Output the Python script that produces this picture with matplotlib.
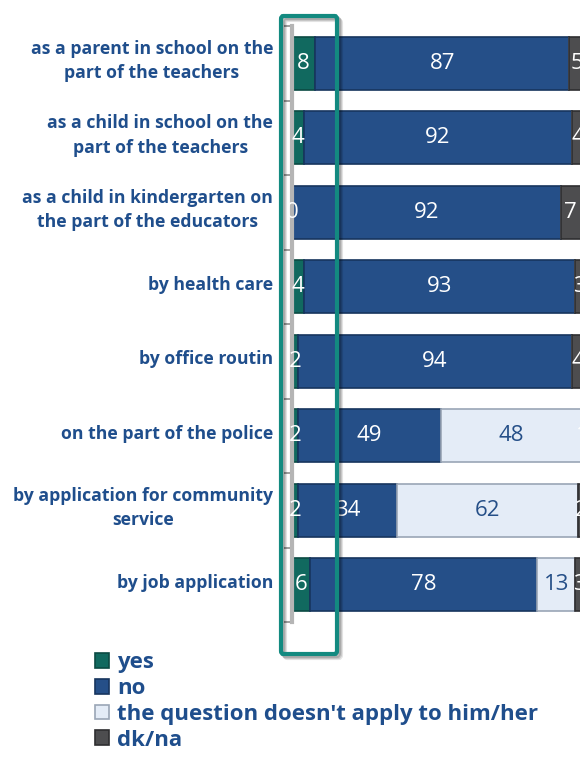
import matplotlib
matplotlib.use("Agg")
import matplotlib.pyplot as plt
from matplotlib.patches import FancyBboxPatch
import numpy as np

plt.rcParams['font.family'] = ['Open Sans', 'DejaVu Sans']

categories = [
    "as a parent in school on the\npart of the teachers",
    "as a child in school on the\npart of the teachers",
    "as a child in kindergarten on\nthe part of the educators",
    "by health care",
    "by office routin",
    "on the part of the police",
    "by application for community\nservice",
    "by job application",
]
yes = [8, 4, 0, 4, 2, 2, 2, 6]
no = [87, 92, 92, 93, 94, 49, 34, 78]
na = [0, 0, 0, 0, 0, 48, 62, 13]
dk = [5, 4, 7, 3, 4, 1, 2, 3]

series = ["yes", "no", "the question doesn't apply to him/her", "dk/na"]
colors = ["#11695f", "#254f88", "#e4ecf7", "#4d4d4f"]
edges = ["#0b4a43", "#17355e", "#9aa6b6", "#2e2e30"]
txt_colors = ["white", "white", "#254f88", "white"]
dark_blue = "#1f4e8c"

fig = plt.figure(figsize=(5.8, 7.73), dpi=100)
W, H = 580, 773
ax = fig.add_axes([292 / W, 151 / H, 292 / W, 596 / H])

y = np.arange(len(categories))
left = np.zeros(len(categories))
handles = []
for vals, name, c, ec, tc in zip([yes, no, na, dk], series, colors, edges, txt_colors):
    vals = np.array(vals, dtype=float)
    bars = ax.barh(y, vals, left=left, height=0.71, color=c, edgecolor=ec,
                   linewidth=1.2, label=name)
    handles.append(bars)
    for yi, l, v in zip(y, left, vals):
        if v > 0 or name == "yes":
            ax.text(l + v / 2, yi, f"{int(v)}", ha="center", va="center",
                    color=tc, fontsize=16, clip_on=False)
    left += vals

ax.set_xlim(0, 100)
ax.set_ylim(len(categories) - 0.5, -0.5)
ax.set_xticks([])
ax.set_yticks(np.arange(-0.5, len(categories), 1.0))
ax.set_yticklabels([])
ax.tick_params(axis="y", length=6, width=1.2, color="#8c8c8c", direction="out")
for s in ["top", "right", "bottom"]:
    ax.spines[s].set_visible(False)
ax.spines["left"].set_color("#b5b5b5")
ax.spines["left"].set_linewidth(3)

for yi, cat in zip(y, categories):
    ax.text(-6.5, yi - 0.03, cat, ha="right", va="center", multialignment="center",
            color=dark_blue, fontsize=12.7, fontweight="bold", linespacing=1.45)

# teal highlight box with soft shadow
x0, x1, y0, y1 = 281, 337, 16, 654
for off, a in [(4, 0.10), (3, 0.12), (2, 0.15)]:
    sh = FancyBboxPatch(((x0 + off) / W, 1 - (y1 + off) / H), (x1 - x0) / W, (y1 - y0) / H,
                        boxstyle="round,pad=0,rounding_size=0.004", transform=fig.transFigure,
                        fill=False, edgecolor="black", alpha=a, linewidth=3)
    fig.patches.append(sh)
box = FancyBboxPatch((x0 / W, 1 - y1 / H), (x1 - x0) / W, (y1 - y0) / H,
                     boxstyle="round,pad=0,rounding_size=0.004", transform=fig.transFigure,
                     fill=False, edgecolor="#138a80", linewidth=3)
fig.patches.append(box)

leg = fig.legend(handles=handles, loc="upper left", bbox_to_anchor=(95 / W, 1 - 652 / H),
                 frameon=False, handlelength=0.65, handleheight=0.65, handletextpad=0.35,
                 labelspacing=0.22, borderaxespad=0, borderpad=0,
                 prop={"size": 16, "weight": "bold"}, labelcolor=dark_blue)

fig.savefig("out.png", dpi=100, facecolor="white")
